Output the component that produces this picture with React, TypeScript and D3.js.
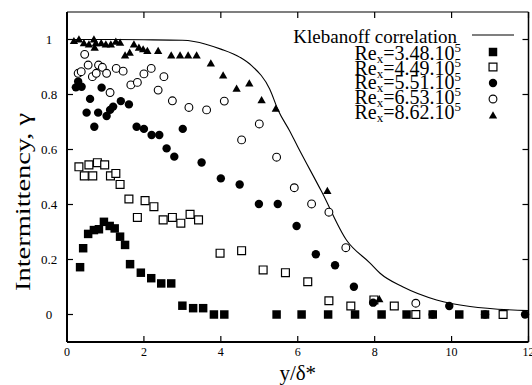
import React from "react";
import * as d3 from "d3";

// Re_x = 3.48e5 (filled squares)
const re348X = [0.34, 0.42, 0.55, 0.70, 0.83, 0.96, 1.11, 1.24, 1.38, 1.51, 1.64, 1.92, 2.19, 2.45, 2.71, 3.00, 3.28, 3.54, 3.82, 4.09, 5.45, 6.10, 6.79, 7.49, 8.18, 8.83, 9.51, 10.20, 10.87];
const re348Y = [0.172, 0.241, 0.293, 0.307, 0.31, 0.337, 0.322, 0.313, 0.283, 0.253, 0.183, 0.152, 0.132, 0.113, 0.113, 0.032, 0.023, 0.023, 0, 0, 0, 0, 0, 0, 0, 0, 0, 0, 0];

// Re_x = 4.49e5 (open squares)
const re449X = [0.31, 0.45, 0.57, 0.67, 0.79, 0.98, 1.13, 1.27, 1.38, 1.61, 1.83, 2.03, 2.26, 2.50, 2.74, 2.96, 3.20, 3.42, 3.98, 4.54, 5.10, 5.68, 6.26, 6.81, 7.38, 7.98, 8.51, 9.07, 11.34];
const re449Y = [0.537, 0.504, 0.544, 0.504, 0.552, 0.544, 0.504, 0.513, 0.473, 0.42, 0.353, 0.414, 0.392, 0.344, 0.353, 0.332, 0.364, 0.344, 0.223, 0.232, 0.162, 0.152, 0.119, 0.05, 0.031, 0.053, 0.031, 0, 0];

// Re_x = 5.51e5 (filled circles)
const re551X = [0.23, 0.29, 0.38, 0.51, 0.60, 0.71, 0.81, 0.90, 1.03, 1.12, 1.20, 1.40, 1.61, 1.81, 2.00, 2.20, 2.40, 2.59, 2.79, 3.01, 3.50, 4.00, 4.49, 4.99, 5.48, 5.97, 6.47, 6.97, 7.46, 7.96, 9.51, 9.94, 10.87, 11.91];
const re551Y = [0.826, 0.847, 0.828, 0.734, 0.784, 0.683, 0.734, 0.825, 0.722, 0.744, 0.756, 0.776, 0.764, 0.683, 0.675, 0.653, 0.653, 0.604, 0.574, 0.675, 0.553, 0.495, 0.473, 0.402, 0.402, 0.322, 0.219, 0.179, 0.101, 0.043, 0, 0.031, 0, 0];

// Re_x = 6.53e5 (open circles)
const re653X = [0.46, 0.29, 0.37, 0.55, 0.66, 0.76, 0.82, 0.92, 1.03, 1.12, 1.28, 1.46, 1.66, 1.83, 2.00, 2.19, 2.37, 2.52, 2.74, 3.17, 3.63, 4.09, 4.54, 5.00, 5.45, 5.91, 6.36, 6.81, 7.25, 9.07];
const re653Y = [0.946, 0.877, 0.883, 0.907, 0.865, 0.877, 0.907, 0.899, 0.877, 0.807, 0.895, 0.885, 0.835, 0.844, 0.875, 0.895, 0.816, 0.865, 0.777, 0.753, 0.744, 0.776, 0.635, 0.693, 0.572, 0.461, 0.402, 0.372, 0.243, 0.041];

// Re_x = 8.62e5 (filled triangles)
const re862X = [0.18, 0.31, 0.44, 0.57, 0.70, 0.75, 0.72, 0.89, 1.01, 1.14, 1.27, 1.38, 1.51, 1.63, 1.74, 1.87, 1.98, 2.09, 2.37, 2.71, 2.94, 3.15, 3.37, 3.74, 4.06, 4.41, 4.74, 5.06, 5.43, 6.77, 8.12];
const re862Y = [0.992, 0.998, 0.984, 0.98, 0.998, 0.984, 0.968, 0.984, 0.98, 0.98, 0.99, 0.986, 0.94, 0.95, 0.98, 0.968, 0.962, 0.956, 0.956, 0.94, 0.94, 0.94, 0.94, 0.911, 0.867, 0.819, 0.838, 0.777, 0.746, 0.447, 0.053];

// Klebanoff correlation curve
const klebX = [0, 1, 2, 3, 3.3, 4.0, 4.5, 4.8, 5.27, 5.5, 5.78, 6.0, 6.62, 7.27, 7.88, 8.14, 8.74, 9.61, 10.48, 12];
const klebY = [1.0, 1.0, 0.999, 0.997, 0.993, 0.965, 0.935, 0.905, 0.82, 0.74, 0.67, 0.61, 0.447, 0.27, 0.187, 0.15, 0.1, 0.053, 0.029, 0.014];

const xTicks = [0, 2, 4, 6, 8, 10, 12];
const yTicks = [0, 0.2, 0.4, 0.6, 0.8, 1];
const yTickLabels = ["0", "0.2", "0.4", "0.6", "0.8", "1"];

const seriesNames = ["3.48", "4.49", "5.51", "6.53", "8.62"];

const W = 532;
const H = 385;
const left = 67;
const right = 528.5;
const top = 12;
const bottom = 342;

const FONT = "'Liberation Serif', 'Times New Roman', Times, serif";
const txt = { fontFamily: FONT } as React.CSSProperties;

type Kind = "sqFill" | "sqOpen" | "circFill" | "circOpen" | "tri";

function Marker({ kind, x, y }: { kind: Kind; x: number; y: number }) {
  if (kind === "sqFill") {
    return <path transform={`translate(${x},${y})`} d={d3.symbol(d3.symbolSquare, 72)()!} fill="#000" />;
  }
  if (kind === "sqOpen") {
    return <path transform={`translate(${x},${y})`} d={d3.symbol(d3.symbolSquare, 62)()!} fill="#fff" stroke="#000" strokeWidth={1.2} />;
  }
  if (kind === "circFill") {
    return <circle cx={x} cy={y} r={4.2} fill="#000" />;
  }
  if (kind === "circOpen") {
    return <circle cx={x} cy={y} r={3.9} fill="#fff" stroke="#000" strokeWidth={1.1} />;
  }
  return <path transform={`translate(${x},${y})`} d={d3.symbol(d3.symbolTriangle, 30)()!} fill="#000" />;
}

export default function App() {
  const x = d3.scaleLinear().domain([0, 12]).range([left, right]);
  const y = d3.scaleLinear().domain([-0.1, 1.1]).range([bottom, top]);

  const line = d3
    .line<number>()
    .x((_, i) => x(klebX[i]))
    .y((_, i) => y(klebY[i]))
    .curve(d3.curveMonotoneX);

  const series: { xs: number[]; ys: number[]; kind: Kind }[] = [
    { xs: re348X, ys: re348Y, kind: "sqFill" },
    { xs: re449X, ys: re449Y, kind: "sqOpen" },
    { xs: re551X, ys: re551Y, kind: "circFill" },
    { xs: re653X, ys: re653Y, kind: "circOpen" },
    { xs: re862X, ys: re862Y, kind: "tri" },
  ];

  const legendKinds: Kind[] = ["sqFill", "sqOpen", "circFill", "circOpen", "tri"];
  const legendTextX = 461;
  const legendMarkX = 493;
  const legendBase = [60, 74.5, 89, 104, 119];
  const legendMarkY = [52, 67, 83, 99, 116];

  return (
    <svg width={W} height={H} style={{ position: "absolute", left: 0, top: 0, background: "#fff" }}>
      <rect x={0} y={0} width={W} height={H} fill="#fff" />

      {/* curve */}
      <path d={line(klebX)!} fill="none" stroke="#000" strokeWidth={1.1} />

      {/* data points */}
      {series.map((s, si) => (
        <g key={si}>
          {s.xs.map((v, i) => (
            <Marker key={i} kind={s.kind} x={x(v)} y={y(s.ys[i])} />
          ))}
        </g>
      ))}

      {/* frame */}
      <line x1={left} x2={right} y1={top} y2={top} stroke="#000" strokeWidth={1.2} />
      <line x1={right} x2={right} y1={top} y2={bottom} stroke="#000" strokeWidth={1.5} />
      <line x1={left} x2={right} y1={bottom} y2={bottom} stroke="#000" strokeWidth={2} />
      <line x1={left} x2={left} y1={top} y2={bottom} stroke="#000" strokeWidth={2} />

      {/* x ticks */}
      {xTicks.map((t) => (
        <g key={`xt${t}`}>
          <line x1={x(t)} x2={x(t)} y1={bottom} y2={bottom - 6} stroke="#000" strokeWidth={1.2} />
          <line x1={x(t)} x2={x(t)} y1={top} y2={top + 6} stroke="#000" strokeWidth={1.2} />
          <text x={x(t)} y={356} textAnchor="middle" fontSize={12} style={txt}>
            {t}
          </text>
        </g>
      ))}

      {/* y ticks */}
      {yTicks.map((t, i) => (
        <g key={`yt${t}`}>
          <line x1={left} x2={left + 6} y1={y(t)} y2={y(t)} stroke="#000" strokeWidth={1.2} />
          <line x1={right} x2={right - 6} y1={y(t)} y2={y(t)} stroke="#000" strokeWidth={1.2} />
          <text x={49} y={y(t) + 4.5} textAnchor="middle" fontSize={13} style={txt}>
            {yTickLabels[i]}
          </text>
        </g>
      ))}

      {/* axis titles */}
      <text x={(left + right) / 2} y={380} textAnchor="middle" fontSize={21} style={txt}>
        y/δ*
      </text>
      <text
        transform="translate(30,202) rotate(-90)"
        textAnchor="middle"
        fontSize={22}
        textLength={178}
        lengthAdjust="spacingAndGlyphs"
        style={txt}
      >
        Intermittency, γ
      </text>

      {/* legend */}
      <text x={457} y={43} textAnchor="end" fontSize={19} style={txt}>
        Klebanoff correlation
      </text>
      <line x1={472} x2={514} y1={35} y2={35} stroke="#000" strokeWidth={1.1} />
      {seriesNames.map((n, i) => (
        <g key={n}>
          <text x={legendTextX} y={legendBase[i]} textAnchor="end" fontSize={20} style={txt}>
            Re
            <tspan fontSize={13} dy={3}>x</tspan>
            <tspan dy={-3}>{`=${n}.10`}</tspan>
            <tspan fontSize={13} dy={-8}>5</tspan>
          </text>
          <Marker kind={legendKinds[i]} x={legendMarkX} y={legendMarkY[i]} />
        </g>
      ))}
    </svg>
  );
}
